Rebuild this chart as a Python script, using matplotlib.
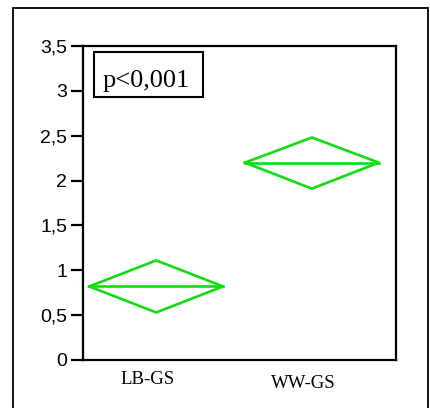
import matplotlib
matplotlib.use("Agg")
import matplotlib.pyplot as plt
from matplotlib.patches import Rectangle
from matplotlib.transforms import offset_copy

categories = ["LB-GS", "WW-GS"]
means = [0.82, 2.20]
upper = [1.11, 2.48]
lower = [0.53, 1.91]
yticks = [0, 0.5, 1, 1.5, 2, 2.5, 3, 3.5]
yticklabels = ["0", "0,5", "1", "1,5", "2", "2,5", "3", "3,5"]
annotation = "p<0,001"

W, H = 431, 408
fig = plt.figure(figsize=(W / 100, H / 100), dpi=100)

# outer frame
fig.patches.append(Rectangle((13.5 / W, -0.05), (428.5 - 13.5) / W, (H - 7.5) / H + 0.05,
                             transform=fig.transFigure, fill=False, ec="black", lw=1.3))

ax = fig.add_axes([83 / W, 1 - 360 / H, (396 - 83) / W, (360 - 46) / H])
green = "#11dd11"
hw = 0.43
for i, (m, u, l) in enumerate(zip(means, upper, lower)):
    xs = [i - hw, i, i + hw, i, i - hw]
    ys = [m, u, m, l, m]
    ax.plot(xs, ys, color=green, lw=1.9, solid_joinstyle="miter")
    ax.plot([i - hw, i + hw], [m, m], color=green, lw=1.9)

ax.set_xlim(-0.47, 1.54)
ax.set_ylim(0, 3.5)
ax.set_yticks(yticks)
ax.set_yticklabels(yticklabels, fontfamily="Liberation Sans", fontsize=14)
ax.set_xticks([0, 1])
ax.set_xticklabels([])
ax.tick_params(axis="y", length=9, width=1.6, pad=2.5)
ax.tick_params(axis="x", length=0)
for s in ax.spines.values():
    s.set_linewidth(1.6)

# category labels, slightly left of the diamond centres
trans_x = ax.get_xaxis_transform()
for i, (cat, dy) in enumerate(zip(categories, [-20, -23])):
    tr = offset_copy(trans_x, fig=fig, x=-9, y=dy, units="dots")
    ax.text(i, 0, cat, transform=tr, fontfamily="Liberation Serif", fontsize=13.5,
            ha="center", va="center")

# annotation box
ax.add_patch(Rectangle((0.035, 0.838), 0.348, 0.143, transform=ax.transAxes,
                       fill=False, ec="black", lw=1.5))
ax.text(0.203, 0.869, annotation, transform=ax.transAxes, fontfamily="Liberation Serif",
        fontsize=19, ha="center", va="baseline")

fig.savefig("out.png", dpi=100)
